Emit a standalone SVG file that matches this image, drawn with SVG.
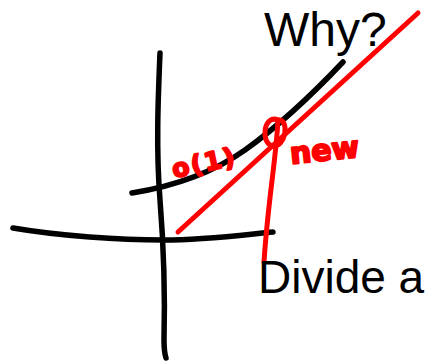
<svg xmlns="http://www.w3.org/2000/svg" width="428" height="362" viewBox="0 0 428 362">
<style>
.ink{fill:none;stroke-linecap:round;stroke-linejoin:round}
.blk{stroke:#000;stroke-width:5.5}
.red{stroke:#ff0000;stroke-width:5}
.lbl{font-family:"Liberation Sans",Arial,sans-serif;fill:#000}
.hand{font-family:"DejaVu Sans",sans-serif;font-weight:bold;fill:#ff0000;stroke:#ff0000;stroke-width:2;stroke-linejoin:round}
</style>
<rect width="428" height="362" fill="#fff"/>
<g id="axes">
<path class="ink blk" d="M160,53 C158,100 156,150 160,200 S165,300 164,340 Q164,352 166,358"/>
<path class="ink blk" d="M13,228 C60,236 120,240 163,240 S250,234 273,232"/>
</g>
<g id="curve">
<path class="ink blk" d="M132,193 Q200,182 245,150 T343,62"/>
</g>
<g id="red-line">
<path class="ink red" d="M178,232 L418,13"/>
</g>
<g id="red-mark">
<path class="ink red" d="M278,120 C264,114 260,142 272,146 C286,149 290,118 278,120"/>
<path class="ink red" d="M278,120 C276,160 268,200 264,262"/>
</g>
<g id="labels">
<text class="lbl" x="264" y="46" font-size="48">Why?</text>
<text class="lbl" x="258" y="293" font-size="46">Divide a</text>
<text class="hand" x="174" y="178" font-size="25" letter-spacing="2" transform="rotate(-12 174 178)">o(1)</text>
<text class="hand" x="291" y="164" font-size="30" transform="rotate(-6 291 164)">new</text>
</g>
</svg>
